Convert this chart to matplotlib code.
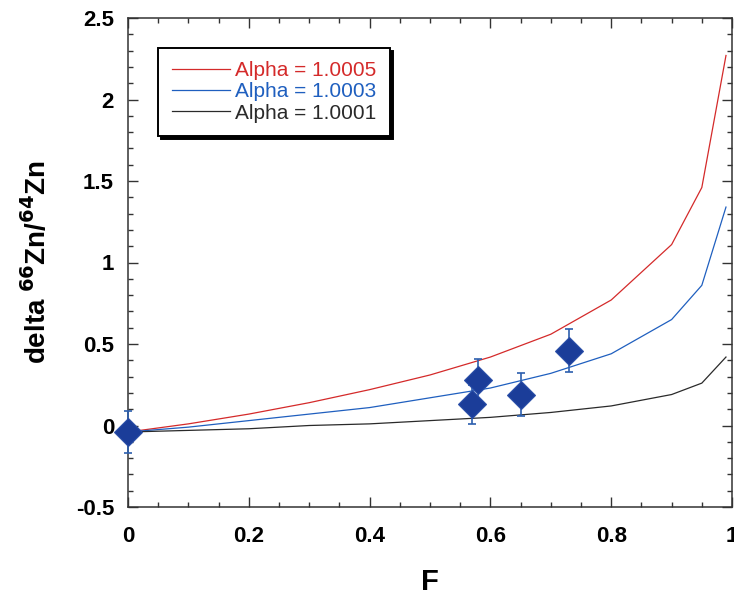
import matplotlib
matplotlib.use('Agg')
import numpy as np
import matplotlib.pyplot as plt
from matplotlib.ticker import MultipleLocator

plt.rcParams['font.family'] = ['Liberation Sans', 'DejaVu Sans']

# model curves (Rayleigh fractionation)
F_curve = [0, 0.1, 0.2, 0.3, 0.4, 0.5, 0.6, 0.7, 0.8, 0.9, 0.95, 0.99]
delta_a5 = [-0.04, 0.01, 0.07, 0.14, 0.22, 0.31, 0.42, 0.56, 0.77, 1.11, 1.46, 2.27]
delta_a3 = [-0.04, -0.01, 0.03, 0.07, 0.11, 0.17, 0.23, 0.32, 0.44, 0.65, 0.86, 1.34]
delta_a1 = [-0.04, -0.03, -0.02, 0.00, 0.01, 0.03, 0.05, 0.08, 0.12, 0.19, 0.26, 0.42]
labels = ['Alpha = 1.0005', 'Alpha = 1.0003', 'Alpha = 1.0001']

# measured points
F_obs = [0, 0.57, 0.58, 0.65, 0.73]
delta_obs = [-0.04, 0.13, 0.28, 0.19, 0.46]
delta_err = [0.13, 0.12, 0.13, 0.13, 0.13]

red = '#d42a2a'
blue = '#1f5fbf'
dark = '#2a2a2a'

fig = plt.figure(figsize=(7.34, 6.0), dpi=100)
ax = fig.add_axes([0.1744, 0.155, 0.8229, 0.815])

ax.plot(F_curve, delta_a5, color=red, lw=0.9, label=labels[0])
ax.plot(F_curve, delta_a3, color=blue, lw=0.9, label=labels[1])
ax.plot(F_curve, delta_a1, color=dark, lw=0.9, label=labels[2])

ax.errorbar(F_obs, delta_obs, yerr=delta_err, fmt='none', ecolor='#2c5fae',
            elinewidth=1.2, capsize=3, capthick=1.2, zorder=4, clip_on=False)
ax.plot(F_obs, delta_obs, linestyle='none', marker='D', ms=14,
        color='#1b3d99', mec='#2a4fa8', mew=0.8, zorder=5, clip_on=False)

ax.set_xlim(0, 1)
ax.set_ylim(-0.5, 2.5)
ax.xaxis.set_major_locator(MultipleLocator(0.2))
ax.xaxis.set_minor_locator(MultipleLocator(0.05))
ax.yaxis.set_major_locator(MultipleLocator(0.5))
ax.yaxis.set_minor_locator(MultipleLocator(0.1))
ax.xaxis.set_major_formatter(plt.FuncFormatter(lambda v, p: '%g' % round(v, 2)))
ax.yaxis.set_major_formatter(plt.FuncFormatter(lambda v, p: '%g' % round(v, 2)))

ax.tick_params(which='both', direction='in', top=True, right=True,
               color='#333333', width=1)
ax.tick_params(which='major', length=7)
ax.tick_params(which='minor', length=3.5)
ax.tick_params(axis='x', which='major', pad=14, labelsize=16)
ax.tick_params(axis='y', which='major', pad=10, labelsize=16)
for lab in ax.get_xticklabels() + ax.get_yticklabels():
    lab.set_fontweight('bold')
for s in ax.spines.values():
    s.set_linewidth(1.1)
    s.set_color('#333333')

ax.set_xlabel('F', fontsize=21, fontweight='bold', labelpad=15)
ax.set_ylabel(r'delta $\mathbf{^{66}}$Zn/$\mathbf{^{64}}$Zn', fontsize=20,
              fontweight='bold', labelpad=17)

leg = ax.legend(loc='upper left', bbox_to_anchor=(0.05, 0.939), borderaxespad=0,
                fontsize=15, handlelength=2.8, handletextpad=0.25,
                labelspacing=0.1, borderpad=0.65, fancybox=False,
                edgecolor='black', labelcolor='linecolor', framealpha=1,
                shadow={'color': 'black', 'alpha': 1})
leg.get_frame().set_linewidth(1.4)

fig.savefig('out.png', dpi=100)
